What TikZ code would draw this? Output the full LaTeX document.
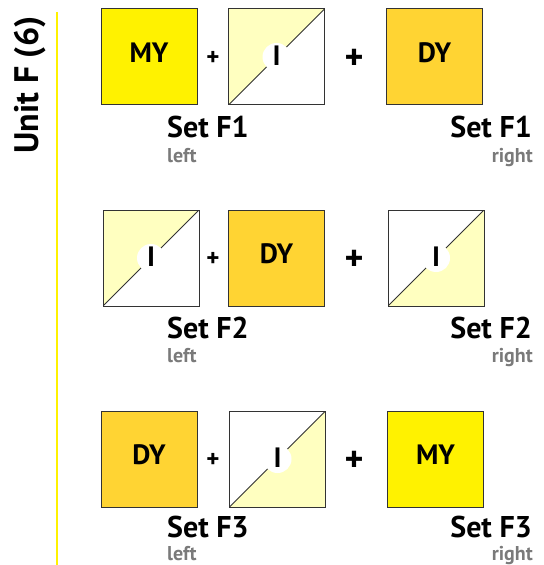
\documentclass[tikz,border=0pt]{standalone}
\usepackage{fontspec}
\setmainfont{PT Sans}
\definecolor{midyel}{HTML}{FFF200}
\definecolor{deepyel}{HTML}{FFD433}
\definecolor{paleyel}{HTML}{FFFFC0}
\definecolor{edge}{HTML}{333333}
\definecolor{softgray}{HTML}{7A7A7A}

\tikzset{
 tile/.style={draw=edge,line width=1bp,minimum size=96bp,inner sep=0pt,
  font=\bfseries\fontsize{28bp}{28bp}\selectfont,text depth=9bp},
 mytile/.style={tile,fill=midyel},
 dytile/.style={tile,fill=deepyel},
 % half white, half pale yellow, cut by the diagonal
 itile/.style={tile,fill=white,text depth=2bp,path picture={
  \fill[paleyel] (path picture bounding box.south west) -- (path picture bounding box.north east) -- (path picture bounding box.#1) -- cycle;
  \draw[edge,line width=1bp] (path picture bounding box.south west) -- (path picture bounding box.north east);
  \fill[white] (path picture bounding box.center) circle (14bp);}},
 smallplus/.style={font=\bfseries\fontsize{25bp}{25bp}\selectfont},
 bigplus/.style={font=\bfseries\fontsize{36bp}{36bp}\selectfont},
 setlbl/.style={font=\bfseries\fontsize{30bp}{30bp}\selectfont,inner sep=0pt},
 sidelbl/.style={text=softgray,font=\bfseries\fontsize{20bp}{20bp}\selectfont,inner sep=0pt}
}

\begin{document}
\begin{tikzpicture}[x=1bp,y=-1bp]
 \useasboundingbox (0,0) rectangle (544,565);
 % unit title and rule
 \node[rotate=90,font=\bfseries\fontsize{34bp}{34bp}\selectfont] (unit) at (30,85) {Unit F (6)};
 \draw[midyel,line width=2bp] (57,12) -- (57,565);
 % set F1
 \node[mytile] (my1) at (149,57) {MY};
 \node[smallplus] (pa1) at (213,58) {+};
 \node[itile=north west] (i1) at (276.5,57) {I};
 \node[bigplus] (pb1) at (354,59) {+};
 \node[dytile] (dy1) at (434.5,57) {DY};
 \node[setlbl,anchor=base west] (sl1) at (167,138) {Set F1};
 \node[sidelbl,anchor=base west] (l1) at (167,163) {left};
 \node[setlbl,anchor=base east] (sr1) at (532,138) {Set F1};
 \node[sidelbl,anchor=base east] (r1) at (533,163) {right};
 % set F2
 \node[itile=north west] (i2) at (151,258) {I};
 \node[smallplus] (pa2) at (213,259) {+};
 \node[dytile] (dy2) at (276.5,258) {DY};
 \node[bigplus] (pb2) at (354,260) {+};
 \node[itile=south east] (i3) at (436,258) {I};
 \node[setlbl,anchor=base west] (sl2) at (167,338) {Set F2};
 \node[sidelbl,anchor=base west] (l2) at (167,362) {left};
 \node[setlbl,anchor=base east] (sr2) at (532,338) {Set F2};
 \node[sidelbl,anchor=base east] (r2) at (533,362) {right};
 % set F3
 \node[dytile] (dy3) at (149,459) {DY};
 \node[smallplus] (pa3) at (213,460) {+};
 \node[itile=south east] (i4) at (277.5,459) {I};
 \node[bigplus] (pb3) at (354,461) {+};
 \node[mytile] (my3) at (435.5,459) {MY};
 \node[setlbl,anchor=base west] (sl3) at (167,537) {Set F3};
 \node[sidelbl,anchor=base west] (l3) at (167,560) {left};
 \node[setlbl,anchor=base east] (sr3) at (532,537) {Set F3};
 \node[sidelbl,anchor=base east] (r3) at (533,560) {right};
\end{tikzpicture}
\end{document}
